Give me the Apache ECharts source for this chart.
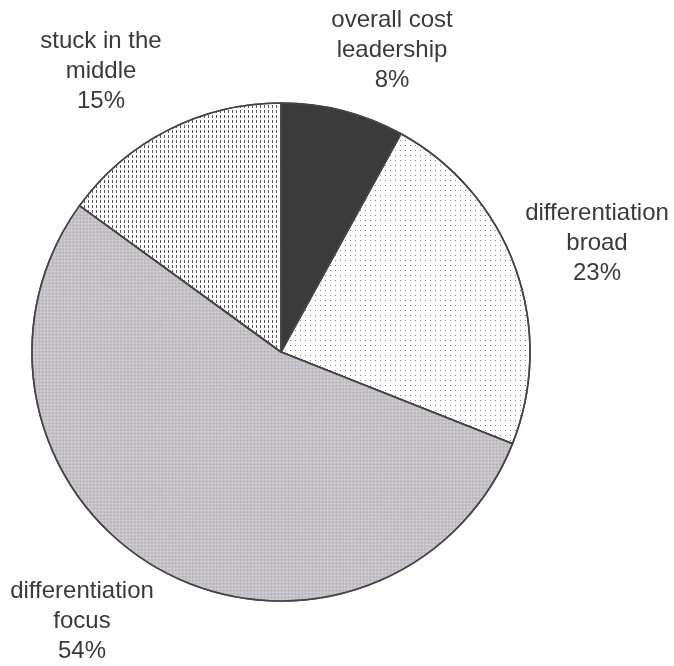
<!DOCTYPE html>
<html><head><meta charset="utf-8">
<script src="https://cdn.jsdelivr.net/npm/echarts@6/dist/echarts.min.js"></script>
<style>html,body{margin:0;padding:0;background:#fff}#c{width:674px;height:666px}</style>
</head><body><div id="c"></div>
<script>
var categories = ['overall cost\nleadership', 'differentiation\nbroad', 'differentiation\nfocus', 'stuck in the\nmiddle'];
var values = [8, 23, 54, 15];
var fills = ['#3b3b3b', '#ffffff', '#dad8dc', '#ffffff'];
var labelSpots = [[392, 50], [597, 243], [82, 621], [101, 71]];
var decals = [
  {symbol: 'rect', color: 'rgba(0,0,0,0)', dashArrayX: [1, 0], dashArrayY: [1, 0]},
  {symbol: 'rect', color: '#808080', symbolSize: 1, dashArrayX: [1, 4], dashArrayY: [1, 4]},
  {symbol: 'rect', color: '#aeacb1', symbolSize: 1, dashArrayX: [[1, 1], [0, 1, 1, 0]], dashArrayY: [1, 0]},
  {symbol: 'rect', color: '#5a5a5a', symbolSize: 1, dashArrayX: [1, 3], dashArrayY: [3, 2]}
];
var chart = echarts.init(document.getElementById('c'), null, {renderer: 'canvas'});
chart.setOption({
  animation: false,
  backgroundColor: '#fff',
  aria: {enabled: true, decal: {show: true}},
  series: [{
    type: 'pie',
    center: [281, 352],
    radius: [0, 249],
    startAngle: 90,
    clockwise: true,
    silent: true,
    label: {
      show: true,
      position: 'outside',
      formatter: function (p) { return p.name + '\n' + p.value + '%'; },
      fontFamily: 'Liberation Sans, Arial, sans-serif',
      fontSize: 24,
      lineHeight: 30,
      color: '#3a3a3a',
      align: 'center',
      verticalAlign: 'middle',
      overflow: 'none',
      width: 300
    },
    labelLine: {show: false},
    labelLayout: function (p) {
      var s = labelSpots[p.dataIndex];
      return {x: s[0], y: s[1], align: 'center', verticalAlign: 'middle'};
    },
    itemStyle: {borderColor: '#454545', borderWidth: 1.6},
    data: categories.map(function (c, i) {
      return {name: c, value: values[i], itemStyle: {color: fills[i], decal: decals[i]}};
    })
  }]
});
</script></body></html>
